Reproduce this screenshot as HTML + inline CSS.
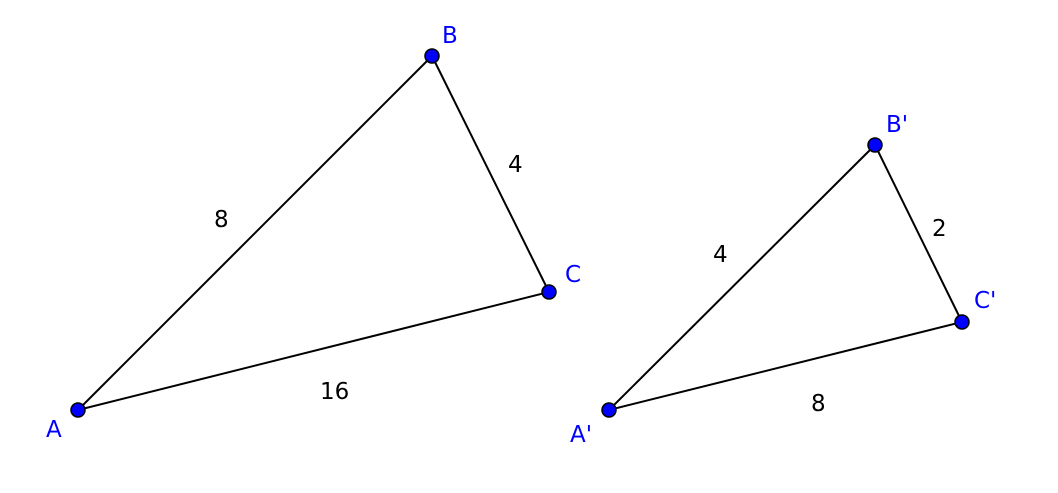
<!DOCTYPE html>
<html><head><meta charset="utf-8"><style>
html,body{margin:0;padding:0;background:#fff;}
svg{display:block;}
text{font-family:"DejaVu Sans","Liberation Sans",sans-serif;font-size:23px;}
.b{fill:#0000ff;}
</style></head><body>
<svg width="1058" height="493" viewBox="0 0 1058 493" xmlns="http://www.w3.org/2000/svg">
<g stroke="#000" stroke-width="2" fill="none">
<polygon points="78,410 432,56 549,292"/>
<polygon points="609,410 875,145 962,322"/>
</g>
<g fill="#0000ff" stroke="#000" stroke-width="1.5">
<circle cx="78" cy="410" r="7"/><circle cx="432" cy="56" r="7"/><circle cx="549" cy="292" r="7"/>
<circle cx="609" cy="410" r="7"/><circle cx="875" cy="145" r="7"/><circle cx="962" cy="322" r="7"/>
</g>
<g class="b">
<text x="442" y="43">B</text>
<text x="565" y="282">C</text>
<text x="46" y="437">A</text>
<text x="886" y="132">B'</text>
<text x="974" y="308">C'</text>
<text x="570" y="442">A'</text>
</g>
<g fill="#000">
<text x="214" y="227">8</text>
<text x="508" y="172">4</text>
<text x="320" y="399">16</text>
<text x="713" y="262">4</text>
<text x="932" y="236">2</text>
<text x="811" y="411">8</text>
</g>
</svg>
</body></html>
